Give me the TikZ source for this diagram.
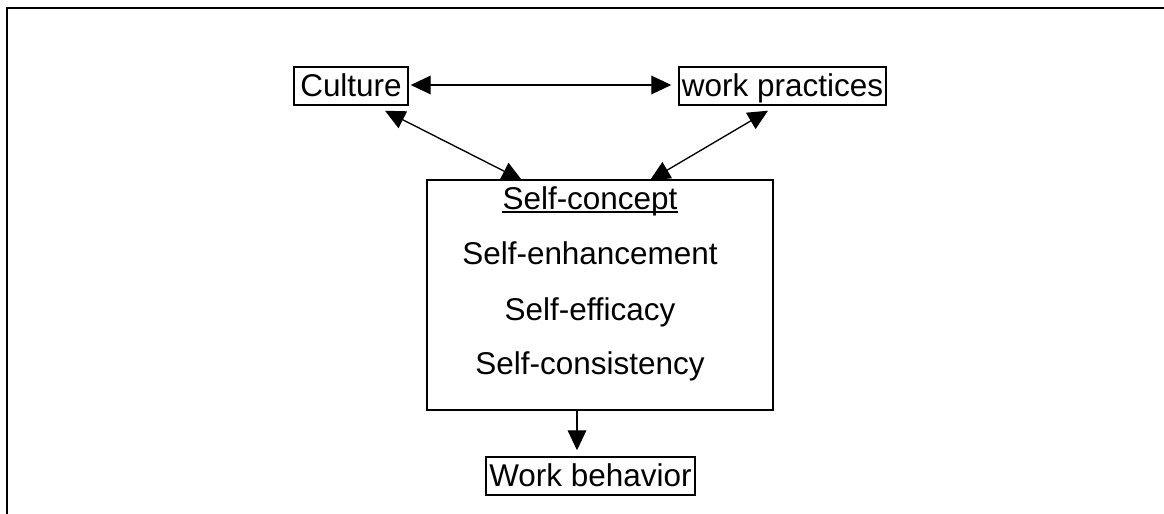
\documentclass[tikz,border=0pt]{standalone}
\usepackage{fontspec}
\setmainfont{Liberation Sans}
\usetikzlibrary{arrows.meta,calc}
\begin{document}
\begin{tikzpicture}[x=0.75pt,y=-0.75pt,
  every node/.style={font=\fontsize{23.6pt}{28pt}\selectfont, inner sep=0pt},
  box/.style={draw, line width=1.1pt, text height=21.75pt, text depth=6.75pt},
  tip/.style={Triangle[length=15pt,width=14pt]},
  conn/.style={line width=1pt, {Triangle[length=15pt,width=14pt]}-{Triangle[length=15pt,width=14pt]}},
  fwd/.style={line width=1pt, -{Triangle[length=15pt,width=14pt]}},
  lbl/.style={anchor=base}]
\useasboundingbox (0,0) rectangle (1164,514);
% page frame (top and left edges)
\draw[line width=1.6pt] (7,514) -- (7,8) -- (1164,8);
% boxes
\node[box, minimum width=85.5pt] (culture) at (351,86) {Culture~};
\node[box, minimum width=155.25pt] (wp) at (782.5,86) {work practices};
\node[box, minimum width=156.75pt] (wb) at (590.5,476) {Work behavior};
\node[draw, line width=1.1pt, minimum width=259.5pt, minimum height=172.5pt] (self) at (600,295) {};
% contents of the self-concept box
\node[lbl] (sc) at (590,209) {Self-concept};
\node[lbl] (se) at (590,264) {Self-enhancement};
\node[lbl] (sf) at (590,320) {Self-efficacy};
\node[lbl] (sy) at (590,374) {Self-consistency};
\draw[line width=1.6pt] ($(sc.base west)+(0,3)$) -- ($(sc.base east)+(0,3)$);
% connectors
\draw[conn] ($(culture.east)+(2,-1)$) -- ($(wp.west)+(-7,-1)$);
\draw[conn] ($(culture.south)+(34,5)$) -- ($(self.north)+(-78,1)$);
\draw[conn] ($(wp.south)+(-14.5,5)$) -- ($(self.north)+(50,1)$);
\draw[fwd] ($(self.south)+(-23,0)$) -- ($(wb.north)+(-13.5,-6)$);
\end{tikzpicture}
\end{document}
